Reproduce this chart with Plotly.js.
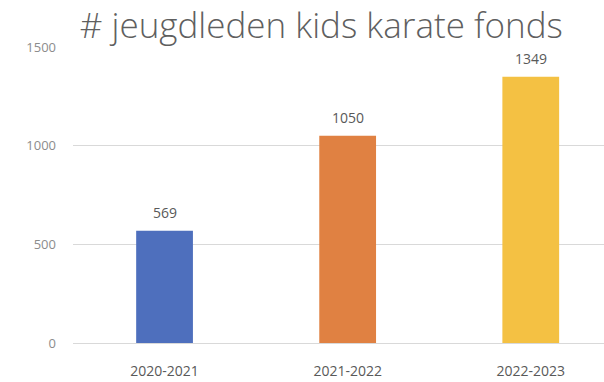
<!DOCTYPE html>
<html><head><meta charset="utf-8">
<script src="https://cdn.plot.ly/plotly-3.0.1.min.js"></script>
<style>html,body{margin:0;padding:0;background:#fff}#chart{width:604px;height:382px}</style>
</head><body><div id="chart"></div>
<script>
const categories = ["2020-2021", "2021-2022", "2022-2023"];
const values = [569, 1050, 1349];
const barColors = ["#4e6fbd", "#e08142", "#f4c143"];
const yTicks = [0, 500, 1000, 1500];

const trace = {
  type: "bar",
  x: [0, 1, 2],
  y: values,
  marker: {color: barColors},
  width: 0.31,
  hoverinfo: "none"
};

const annotations = values.map((v, i) => ({
  x: i, y: v, xref: "x", yref: "y",
  text: String(v), showarrow: false,
  yanchor: "bottom", yshift: 7,
  font: {family: "Open Sans, sans-serif", size: 14, color: "#595959"}
}));

const layout = {
  width: 604, height: 382,
  margin: {l: 73, r: 0, t: 47, b: 39},
  paper_bgcolor: "#fff", plot_bgcolor: "#fff",
  showlegend: false,
  title: {
    text: "# jeugdleden kids karate fonds",
    x: 0.532, xanchor: "center", xref: "container",
    y: 0.965, yanchor: "top", yref: "container",
    font: {family: "Open Sans, sans-serif", size: 35, color: "#5f5f5f", weight: 300}
  },
  xaxis: {
    range: [-0.5, 2.4],
    tickmode: "array", tickvals: [0, 1, 2], ticktext: categories,
    showgrid: false, zeroline: false, showline: false, ticks: "",
    tickfont: {family: "Open Sans, sans-serif", size: 14, color: "#595959"},
    ticklabelstandoff: 18
  },
  yaxis: {
    range: [0, 1500],
    tickmode: "array", tickvals: yTicks,
    showgrid: true, gridcolor: "#d9d9d9", gridwidth: 1,
    zeroline: true, zerolinecolor: "#d9d9d9", zerolinewidth: 1,
    showline: false, ticks: "",
    tickfont: {family: "Open Sans, sans-serif", size: 13, color: "#8c8c8c"},
    ticklabelstandoff: 16
  },
  annotations: annotations
};

Plotly.newPlot("chart", [trace], layout, {displayModeBar: false, staticPlot: true});
</script></body></html>
